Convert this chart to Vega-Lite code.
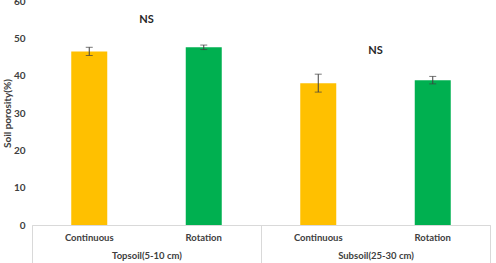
{
  "$schema": "https://vega.github.io/schema/vega-lite/v6.json",
  "width": 458,
  "height": 224,
  "autosize": {"type": "none"},
  "padding": {"left": 32, "top": 1, "right": 6, "bottom": 38},
  "config": {"view": {"stroke": null}, "font": "Lato"},
  "layer": [
    {
      "data": {
        "values": [
          {"key": "Topsoil|Continuous", "group": "Topsoil(5-10 cm)", "treatment": "Continuous", "value": 46.5, "err": 1.1},
          {"key": "Topsoil|Rotation", "group": "Topsoil(5-10 cm)", "treatment": "Rotation", "value": 47.6, "err": 0.6},
          {"key": "Subsoil|Continuous", "group": "Subsoil(25-30 cm)", "treatment": "Continuous", "value": 38.0, "err": 2.4},
          {"key": "Subsoil|Rotation", "group": "Subsoil(25-30 cm)", "treatment": "Rotation", "value": 38.8, "err": 1.0}
        ]
      },
      "layer": [
        {
          "mark": {"type": "bar", "width": 36},
          "encoding": {
            "x": {
              "field": "key", "type": "nominal", "sort": null,
              "scale": {"paddingInner": 0.686, "paddingOuter": 0.343},
              "axis": {
                "orient": "bottom", "title": null, "labelAngle": 0, "ticks": false,
                "domain": true, "domainColor": "#d9d9d9", "labelPadding": 7,
                "labelFontSize": 9.5, "labelFontWeight": "bold", "labelColor": "#404040",
                "labelExpr": "split(datum.value, '|')[1]"
              }
            },
            "y": {
              "field": "value", "type": "quantitative",
              "scale": {"domain": [0, 60]},
              "title": "Soil porosity(%)",
              "axis": {
                "values": [0, 10, 20, 30, 40, 50, 60], "domain": false, "ticks": false, "grid": false,
                "labelOverlap": false, "labelFlush": false, "labelPadding": 7, "labelFontSize": 10, "labelFontWeight": "bold",
                "labelColor": "#404040", "title": "Soil porosity(%)", "titleFontSize": 10,
                "titleFontWeight": "bold", "titleColor": "#404040", "titlePadding": 1
              }
            },
            "color": {
              "field": "treatment", "type": "nominal",
              "scale": {"domain": ["Continuous", "Rotation"], "range": ["#FFC000", "#00B050"]},
              "legend": null
            }
          }
        },
        {
          "mark": {"type": "errorbar", "color": "#404040", "ticks": {"size": 7, "color": "#404040"}, "rule": {"color": "#404040", "strokeWidth": 1}},
          "encoding": {
            "x": {"field": "key", "type": "nominal", "sort": null},
            "y": {
              "field": "value", "type": "quantitative", "title": "Soil porosity(%)",
              "axis": {
                "values": [0, 10, 20, 30, 40, 50, 60], "domain": false, "ticks": false, "grid": false,
                "labelOverlap": false, "labelFlush": false, "labelPadding": 7, "labelFontSize": 10, "labelFontWeight": "bold",
                "labelColor": "#404040", "title": "Soil porosity(%)", "titleFontSize": 10,
                "titleFontWeight": "bold", "titleColor": "#404040", "titlePadding": 1
              }
            },
            "yError": {"field": "err"}
          }
        }
      ]
    },
    {
      "data": {
        "values": [
          {"group": "Topsoil(5-10 cm)", "value": 54.9, "label": "NS"},
          {"group": "Subsoil(25-30 cm)", "value": 46.6, "label": "NS"}
        ]
      },
      "mark": {"type": "text", "fontSize": 11, "fontWeight": "bold", "color": "#262626", "baseline": "middle"},
      "encoding": {
        "x": {
          "field": "group", "type": "nominal", "sort": null,
          "scale": {"type": "band", "paddingInner": 0, "paddingOuter": 0},
          "axis": {
            "orient": "bottom", "title": null, "labelAngle": 0, "ticks": true, "tickBand": "extent",
            "tickSize": 38, "tickColor": "#d9d9d9", "domain": true, "domainColor": "#d9d9d9",
            "labelPadding": -13, "labelFontSize": 9.5, "labelFontWeight": "bold", "labelColor": "#404040"
          }
        },
        "y": {
          "field": "value", "type": "quantitative",
          "title": "Soil porosity(%)",
          "axis": {
            "values": [0, 10, 20, 30, 40, 50, 60], "domain": false, "ticks": false, "grid": false,
            "labelOverlap": false, "labelFlush": false, "labelPadding": 7, "labelFontSize": 10, "labelFontWeight": "bold",
            "labelColor": "#404040", "title": "Soil porosity(%)", "titleFontSize": 10,
            "titleFontWeight": "bold", "titleColor": "#404040", "titlePadding": 1
          }
        },
        "text": {"field": "label"}
      }
    }
  ],
  "resolve": {"scale": {"x": "independent"}}
}
